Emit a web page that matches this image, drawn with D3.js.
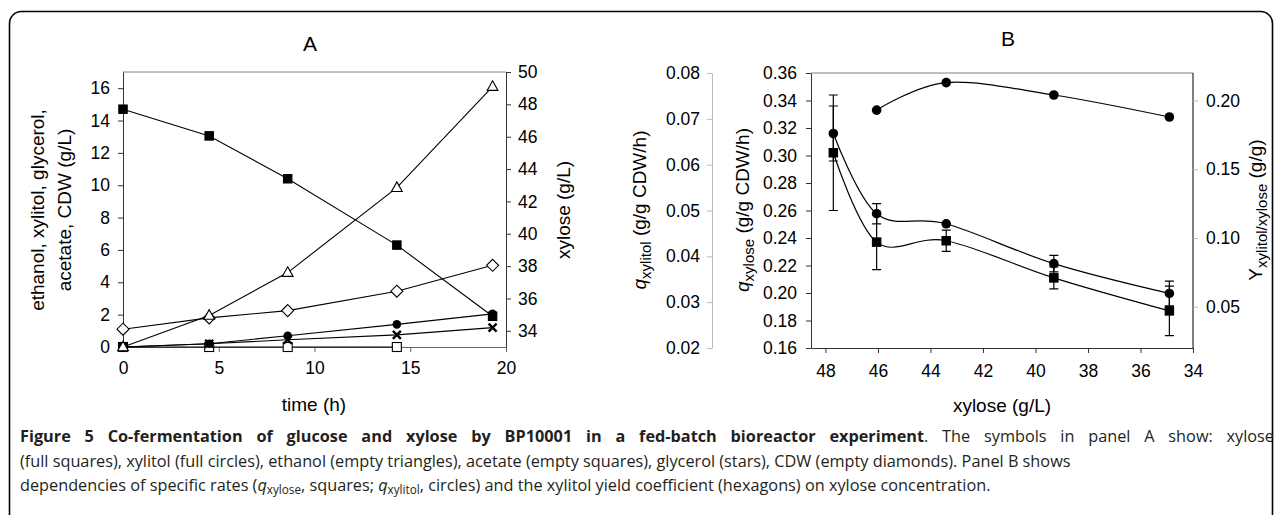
<!DOCTYPE html>
<html>
<head>
<meta charset="utf-8">
<script src="https://cdn.jsdelivr.net/npm/d3@7"></script>
<style>
html, body { margin: 0; padding: 0; background: #fff; }
svg { display: block; font-family: "Liberation Sans", Arial, sans-serif; }
</style>
</head>
<body>
<div id="chart"></div>
<script>
// ---- panel A : time course ----
var timeA = [0, 4.5, 8.6, 14.3, 19.3]
var xyloseA = [47.7, 46.05, 43.4, 39.3, 34.9]
var xylitolA = [0, 0.2, 0.7, 1.4, 2.05]
var ethanolA = [0, 1.95, 4.6, 9.85, 16.1]
var acetateA = [0, 0, 0, 0]
var glycerolA = [0, 0.2, 0.45, 0.75, 1.2]
var cdwA = [1.1, 1.8, 2.25, 3.45, 5.05]
var timeTicks = [0, 5, 10, 15, 20]
var leftTicksA = [0, 2, 4, 6, 8, 10, 12, 14, 16]
var rightTicksA = [34, 36, 38, 40, 42, 44, 46, 48, 50]

// ---- panel B : rates vs xylose ----
var xyloseB = [47.7, 46.05, 43.4, 39.3, 34.9]
var qXylose = [0.302, 0.237, 0.238, 0.211, 0.187]
var qXyloseErr = [0.042, 0.02, 0.0077, 0.008, 0.018]
var qXylitol = [0.0668, 0.0493, 0.0471, 0.0384, 0.0319]
var qXylitolErr = [0.006, 0.0022, 0, 0.0018, 0.0027]
var xyloseYield = [46.05, 43.4, 39.3, 34.9]
var yieldB = [0.193, 0.213, 0.204, 0.188]
var xyloseTicksB = [48, 46, 44, 42, 40, 38, 36, 34]
var qXylitolTicks = [0.02, 0.03, 0.04, 0.05, 0.06, 0.07, 0.08]
var qXyloseTicks = [0.16, 0.18, 0.2, 0.22, 0.24, 0.26, 0.28, 0.3, 0.32, 0.34, 0.36]
var yieldTicks = [0.05, 0.1, 0.15, 0.2]

var WIDTH = 1282
var HEIGHT = 515
var TICK_FONT = 17.5
var TITLE_FONT = 19

var svg = d3.select('#chart').append('svg')
  .attr('width', WIDTH)
  .attr('height', HEIGHT)

// outer frame, runs off the bottom
svg.append('rect')
  .attr('x', 9.5).attr('y', 11.5)
  .attr('width', 1263).attr('height', 540)
  .attr('rx', 12)
  .attr('fill', 'none')
  .attr('stroke', '#000')
  .attr('stroke-width', 1.6)

var styleAxis = function (g, lineColor, fontSize) {
  g.select('.domain').attr('stroke', lineColor)
  g.selectAll('.tick line').attr('stroke', lineColor)
  g.selectAll('.tick text').attr('fill', '#000').attr('font-size', fontSize)
    .attr('font-family', '"Liberation Sans", Arial, sans-serif')
}

var marker = function (g, kind, x, y) {
  if (kind === 'square' || kind === 'squareOpen') {
    var s = kind === 'square' ? 8.4 : 9
    g.append('rect')
      .attr('x', x - s / 2).attr('y', y - s / 2)
      .attr('width', s).attr('height', s)
      .attr('fill', kind === 'square' ? '#000' : '#fff')
      .attr('stroke', '#000').attr('stroke-width', 1.1)
  } else if (kind === 'circle' || kind === 'circleB') {
    g.append('circle')
      .attr('cx', x).attr('cy', y)
      .attr('r', kind === 'circle' ? 4.3 : 4.8)
      .attr('fill', '#000')
  } else if (kind === 'triangle') {
    g.append('path')
      .attr('d', 'M' + x + ',' + (y - 5.8) + 'L' + (x + 5.4) + ',' + (y + 3.8) + 'L' + (x - 5.4) + ',' + (y + 3.8) + 'Z')
      .attr('fill', '#fff').attr('stroke', '#000').attr('stroke-width', 1.1)
  } else if (kind === 'diamond') {
    g.append('path')
      .attr('d', 'M' + x + ',' + (y - 6) + 'L' + (x + 6) + ',' + y + 'L' + x + ',' + (y + 6) + 'L' + (x - 6) + ',' + y + 'Z')
      .attr('fill', '#fff').attr('stroke', '#000').attr('stroke-width', 1.1)
  } else if (kind === 'cross') {
    g.append('path')
      .attr('d', 'M' + (x - 4) + ',' + (y - 4) + 'L' + (x + 4) + ',' + (y + 4) + 'M' + (x + 4) + ',' + (y - 4) + 'L' + (x - 4) + ',' + (y + 4))
      .attr('stroke', '#000').attr('stroke-width', 2.3)
  }
}

// ================= panel A =================
var xA = d3.scaleLinear().domain([0, 20]).range([123, 506])
var yA = d3.scaleLinear().domain([0, 17]).range([347, 72])
var yA2 = d3.scaleLinear().domain([33, 50]).range([347, 72])

var gA = svg.append('g').attr('id', 'panelA')

gA.append('line')
  .attr('x1', 123).attr('x2', 506).attr('y1', 72).attr('y2', 72)
  .attr('stroke', '#808080')

gA.append('g').attr('transform', 'translate(0,347)')
  .call(d3.axisBottom(xA).tickValues(timeTicks).tickSize(5).tickPadding(10).tickSizeOuter(0))
  .call(styleAxis, '#666', TICK_FONT)
gA.append('g').attr('transform', 'translate(123,0)')
  .call(d3.axisLeft(yA).tickValues(leftTicksA).tickSize(5).tickPadding(8).tickSizeOuter(0))
  .call(styleAxis, '#333', TICK_FONT)
gA.append('g').attr('transform', 'translate(506,0)')
  .call(d3.axisRight(yA2).tickValues(rightTicksA).tickSize(5).tickPadding(7).tickSizeOuter(0))
  .call(styleAxis, '#333', TICK_FONT)

var seriesA = [
  {vals: acetateA, scale: yA, kind: 'squareOpen'},
  {vals: glycerolA, scale: yA, kind: 'cross'},
  {vals: xylitolA, scale: yA, kind: 'circle'},
  {vals: cdwA, scale: yA, kind: 'diamond'},
  {vals: ethanolA, scale: yA, kind: 'triangle'},
  {vals: xyloseA, scale: yA2, kind: 'square'}
]

seriesA.forEach(function (s) {
  var line = d3.line()
    .x(function (d, i) { return xA(timeA[i]) })
    .y(function (d) { return s.scale(d) })
  gA.append('path')
    .attr('d', line(s.vals))
    .attr('fill', 'none')
    .attr('stroke', '#000')
    .attr('stroke-width', 1.1)
})
seriesA.forEach(function (s) {
  s.vals.forEach(function (v, i) {
    marker(gA, s.kind, xA(timeA[i]), s.scale(v))
  })
})

gA.append('text')
  .attr('x', 310).attr('y', 51)
  .attr('text-anchor', 'middle')
  .attr('font-size', 21)
  .text('A')

gA.append('text')
  .attr('x', 314).attr('y', 411)
  .attr('text-anchor', 'middle')
  .attr('font-size', TITLE_FONT)
  .text('time (h)')

gA.append('text')
  .attr('transform', 'translate(44,210) rotate(-90)')
  .attr('text-anchor', 'middle')
  .attr('font-size', TITLE_FONT)
  .text('ethanol, xylitol, glycerol,')
gA.append('text')
  .attr('transform', 'translate(71,210) rotate(-90)')
  .attr('text-anchor', 'middle')
  .attr('font-size', TITLE_FONT)
  .text('acetate, CDW (g/L)')

gA.append('text')
  .attr('transform', 'translate(570,210) rotate(-90)')
  .attr('text-anchor', 'middle')
  .attr('font-size', TITLE_FONT)
  .text('xylose (g/L)')

// ================= panel B =================
var xB = d3.scaleLinear().domain([48.55, 34]).range([811, 1193])
var yB = d3.scaleLinear().domain([0.16, 0.36]).range([348, 73])
var yBout = d3.scaleLinear().domain([0.02, 0.08]).range([348, 73])
var yBr = d3.scaleLinear().domain([0.02, 0.22]).range([348, 73])

var gB = svg.append('g').attr('id', 'panelB')

gB.append('line')
  .attr('x1', 811).attr('x2', 1193).attr('y1', 73).attr('y2', 73)
  .attr('stroke', '#808080')
gB.append('line')
  .attr('x1', 1193).attr('x2', 1193).attr('y1', 73).attr('y2', 348)
  .attr('stroke', '#000')

gB.append('g').attr('transform', 'translate(0,348)')
  .call(d3.axisBottom(xB).tickValues(xyloseTicksB).tickSize(5).tickPadding(12).tickSizeOuter(0))
  .call(styleAxis, '#333', TICK_FONT)
gB.append('g').attr('transform', 'translate(811,0)')
  .call(d3.axisLeft(yB).tickValues(qXyloseTicks).tickFormat(d3.format('.2f')).tickSize(5).tickPadding(9).tickSizeOuter(0))
  .call(styleAxis, '#333', TICK_FONT)
gB.append('g').attr('transform', 'translate(712,0)')
  .call(d3.axisLeft(yBout).tickValues(qXylitolTicks).tickFormat(d3.format('.2f')).tickSize(5).tickPadding(7).tickSizeOuter(0))
  .call(styleAxis, '#bbb', TICK_FONT)
gB.append('g').attr('transform', 'translate(1193,0)')
  .call(d3.axisRight(yBr).tickValues(yieldTicks).tickFormat(d3.format('.2f')).tickSize(5).tickPadding(8).tickSizeOuter(0))
  .call(function (g) { g.select('.domain').remove() })
  .call(styleAxis, '#bbb', TICK_FONT)

var smooth = d3.curveCardinal.tension(0)

var drawSeriesB = function (xs, vals, errs, scale, kind) {
  var line = d3.line()
    .x(function (d, i) { return xB(xs[i]) })
    .y(function (d) { return scale(d) })
    .curve(smooth)
  gB.append('path')
    .attr('d', line(vals))
    .attr('fill', 'none')
    .attr('stroke', '#000')
    .attr('stroke-width', 1.2)
  if (errs) {
    vals.forEach(function (v, i) {
      if (!errs[i]) return
      var x = xB(xs[i])
      var top = scale(v + errs[i])
      var bot = scale(v - errs[i])
      gB.append('path')
        .attr('d', 'M' + x + ',' + top + 'V' + bot +
                   'M' + (x - 4.5) + ',' + top + 'H' + (x + 4.5) +
                   'M' + (x - 4.5) + ',' + bot + 'H' + (x + 4.5))
        .attr('fill', 'none')
        .attr('stroke', '#000')
        .attr('stroke-width', 1.2)
    })
  }
  vals.forEach(function (v, i) {
    marker(gB, kind, xB(xs[i]), scale(v))
  })
}

drawSeriesB(xyloseB, qXylose, qXyloseErr, yB, 'square')
drawSeriesB(xyloseB, qXylitol, qXylitolErr, yBout, 'circleB')
drawSeriesB(xyloseYield, yieldB, null, yBr, 'circleB')

gB.append('text')
  .attr('x', 1008).attr('y', 46)
  .attr('text-anchor', 'middle')
  .attr('font-size', 21)
  .text('B')

gB.append('text')
  .attr('x', 1002).attr('y', 412)
  .attr('text-anchor', 'middle')
  .attr('font-size', TITLE_FONT)
  .text('xylose (g/L)')

var subTitle = function (x, main, sub, rest, italicMain) {
  var t = gB.append('text')
    .attr('transform', 'translate(' + x + ',210) rotate(-90)')
    .attr('text-anchor', 'middle')
    .attr('font-size', TITLE_FONT)
  t.append('tspan').attr('font-style', italicMain ? 'italic' : 'normal').text(main)
  t.append('tspan').attr('dy', 5).attr('font-size', 15).text(sub)
  t.append('tspan').attr('dy', -5).text(rest)
}
subTitle(646, 'q', 'xylitol', ' (g/g CDW/h)', true)
subTitle(749, 'q', 'xylose', ' (g/g CDW/h)', true)
subTitle(1262, 'Y', 'xylitol/xylose', ' (g/g)', false)

// ================= caption =================
var cap = svg.append('g')
  .attr('font-family', '"Open Sans", "Noto Sans", sans-serif')
  .attr('fill', '#231f20')

var l1 = cap.append('text').attr('x', 20).attr('y', 442)
l1.append('tspan').attr('font-weight', 'bold')
  .text('Figure 5 Co-fermentation of glucose and xylose by BP10001 in a fed-batch bioreactor experiment')
l1.append('tspan').text('. The symbols in panel A show: xylose')

var l2 = cap.append('text').attr('x', 20).attr('y', 467)
  .text('(full squares), xylitol (full circles), ethanol (empty triangles), acetate (empty squares), glycerol (stars), CDW (empty diamonds). Panel B shows')

var l3 = cap.append('text').attr('x', 20).attr('y', 491)
l3.append('tspan').text('dependencies of specific rates (')
l3.append('tspan').attr('font-style', 'italic').text('q')
l3.append('tspan').attr('class', 'sub').attr('dy', 3).text('xylose')
l3.append('tspan').attr('dy', -3).text(', squares; ')
l3.append('tspan').attr('font-style', 'italic').text('q')
l3.append('tspan').attr('class', 'sub').attr('dy', 3).text('xylitol')
l3.append('tspan').attr('dy', -3).text(', circles) and the xylitol yield coefficient (hexagons) on xylose concentration.')

var setCapSize = function (fs) {
  cap.attr('font-size', fs)
  cap.selectAll('.sub').attr('font-size', fs * 0.72)
}

// size caption once the font is in: second (ragged) line ends near x=1072,
// first line is justified across the box
var layoutCaption = function () {
  var fs = 15
  setCapSize(fs)
  var w2 = l2.node().getComputedTextLength()
  fs = fs * 1052 / w2
  setCapSize(fs)
  l1.attr('word-spacing', null)
  var w1 = l1.node().getComputedTextLength()
  var gaps = (l1.text().match(/ /g) || []).length
  l1.attr('word-spacing', Math.max(0, (1254 - w1) / gaps))
}
layoutCaption()
if (document.fonts && document.fonts.ready) document.fonts.ready.then(layoutCaption)
</script>
</body>
</html>
